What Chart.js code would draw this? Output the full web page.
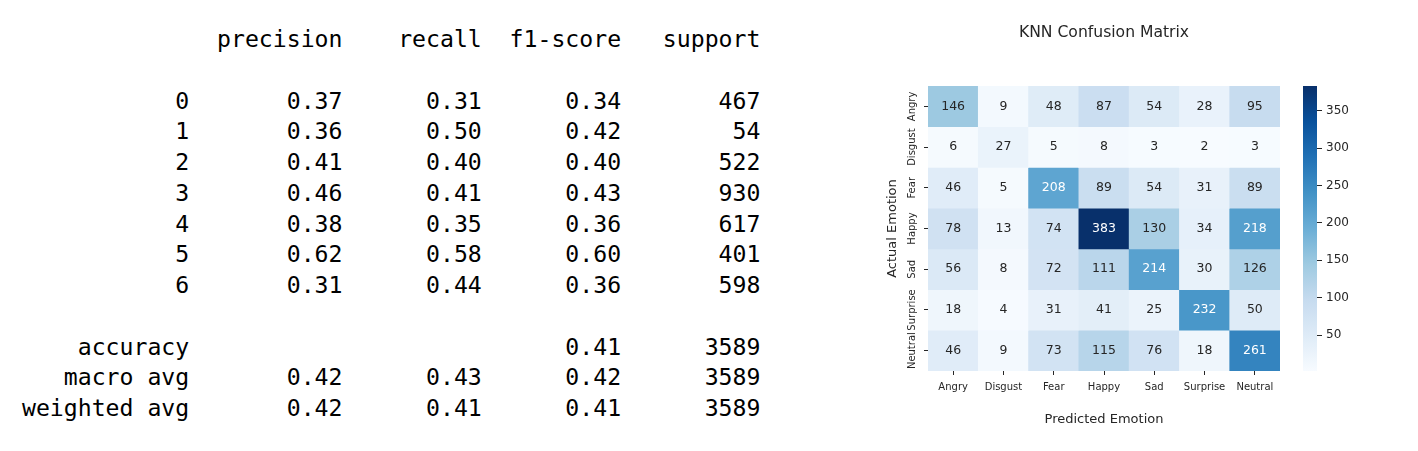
<!DOCTYPE html>
<html>
<head>
<meta charset="utf-8">
<title>KNN Confusion Matrix</title>
<script src="https://cdn.jsdelivr.net/npm/chart.js@4.4.1/dist/chart.umd.min.js"></script>
<style>
  html, body { margin: 0; padding: 0; background: #fff; }
  body { width: 1418px; height: 451px; position: relative; overflow: hidden; }
  #report {
    position: absolute; left: 22px; top: 24px; margin: 0;
    font-family: 'DejaVu Sans Mono', monospace; font-size: 23.15px;
    line-height: 30.75px; color: #000;
  }
  #heatmap { position: absolute; left: 860px; top: 0; }
  #colorbar { position: absolute; left: 1290px; top: 0; }
</style>
</head>
<body>
<pre id="report"></pre>
<canvas id="heatmap" width="430" height="451"></canvas>
<canvas id="colorbar" width="128" height="451"></canvas>
<script>
// classification report
const classLabels = ['0', '1', '2', '3', '4', '5', '6'];
const precision = [0.37, 0.36, 0.41, 0.46, 0.38, 0.62, 0.31];
const recall = [0.31, 0.50, 0.40, 0.41, 0.35, 0.58, 0.44];
const f1Score = [0.34, 0.42, 0.40, 0.43, 0.36, 0.60, 0.36];
const support = [467, 54, 522, 930, 617, 401, 598];
const accuracy = 0.41;
const totalSupport = 3589;
const macroAvg = [0.42, 0.43, 0.42];
const weightedAvg = [0.42, 0.41, 0.41];

// confusion matrix, one array per actual emotion
const emotions = ['Angry', 'Disgust', 'Fear', 'Happy', 'Sad', 'Surprise', 'Neutral'];
const actualAngry = [146, 9, 48, 87, 54, 28, 95];
const actualDisgust = [6, 27, 5, 8, 3, 2, 3];
const actualFear = [46, 5, 208, 89, 54, 31, 89];
const actualHappy = [78, 13, 74, 383, 130, 34, 218];
const actualSad = [56, 8, 72, 111, 214, 30, 126];
const actualSurprise = [18, 4, 31, 41, 25, 232, 50];
const actualNeutral = [46, 9, 73, 115, 76, 18, 261];
const matrix = [actualAngry, actualDisgust, actualFear, actualHappy, actualSad, actualSurprise, actualNeutral];

const colorbarTicks = [50, 100, 150, 200, 250, 300, 350];

const blues = ['#f7fbff', '#deebf7', '#c6dbef', '#9ecae1', '#6baed6', '#4292c6', '#2171b5', '#08519c', '#08306b'];
const vmin = Math.min(...matrix.flat());
const vmax = Math.max(...matrix.flat());
const dark = '#262626';

Chart.defaults.font.family = '"DejaVu Sans", sans-serif';

function pad(value, n) {
  return String(value).padStart(n);
}

function buildReport() {
  const w = 12;
  const num = (v) => ' ' + pad(v.toFixed(2), 9);
  const lines = [];
  lines.push(pad('', w) + ' ' + ['precision', 'recall', 'f1-score', 'support'].map((h) => ' ' + pad(h, 9)).join(''));
  lines.push('');
  classLabels.forEach((label, i) => {
    lines.push(pad(label, w) + ' ' + num(precision[i]) + num(recall[i]) + num(f1Score[i]) + ' ' + pad(support[i], 9));
  });
  lines.push('');
  lines.push(pad('accuracy', w) + ' ' + ' ' + pad('', 9) + ' ' + pad('', 9) + num(accuracy) + ' ' + pad(totalSupport, 9));
  lines.push(pad('macro avg', w) + ' ' + macroAvg.map(num).join('') + ' ' + pad(totalSupport, 9));
  lines.push(pad('weighted avg', w) + ' ' + weightedAvg.map(num).join('') + ' ' + pad(totalSupport, 9));
  return lines.join('\n');
}

document.getElementById('report').textContent = buildReport();

const bluesRgb = blues.map((h) => [1, 3, 5].map((i) => parseInt(h.slice(i, i + 2), 16)));

function bluesAt(t) {
  t = Math.min(1, Math.max(0, t));
  const pos = t * (bluesRgb.length - 1);
  const i = Math.min(Math.floor(pos), bluesRgb.length - 2);
  const f = pos - i;
  return bluesRgb[i].map((c, k) => Math.round(c + (bluesRgb[i + 1][k] - c) * f));
}

function cellColor(v) {
  const [r, g, b] = bluesAt((v - vmin) / (vmax - vmin));
  return `rgb(${r}, ${g}, ${b})`;
}

// same rule seaborn uses to pick the annotation colour
function textColor(v) {
  const lin = bluesAt((v - vmin) / (vmax - vmin)).map((c) => {
    const s = c / 255;
    return s <= 0.03928 ? s / 12.92 : Math.pow((s + 0.055) / 1.055, 2.4);
  });
  const lum = 0.2126 * lin[0] + 0.7152 * lin[1] + 0.0722 * lin[2];
  return lum > 0.408 ? dark : '#ffffff';
}

const cellLabels = {
  id: 'cellLabels',
  afterDatasetsDraw(chart) {
    const { ctx } = chart;
    ctx.save();
    ctx.font = '12.5px "DejaVu Sans"';
    ctx.textAlign = 'center';
    ctx.textBaseline = 'middle';
    chart.data.datasets.forEach((ds, r) => {
      chart.getDatasetMeta(r).data.forEach((bar, c) => {
        const v = ds.values[c];
        const { x, y, base } = bar.getProps(['x', 'y', 'base'], true);
        ctx.fillStyle = textColor(v);
        ctx.fillText(String(v), x, (y + base) / 2);
      });
    });
    ctx.restore();
  }
};

new Chart(document.getElementById('heatmap'), {
  type: 'bar',
  data: {
    labels: emotions,
    datasets: matrix.map((row, r) => ({
      label: emotions[r],
      data: row.map(() => [r, r + 1]),
      values: row,
      backgroundColor: row.map(cellColor),
      borderWidth: 0,
      grouped: false,
      barPercentage: 1,
      categoryPercentage: 1
    }))
  },
  options: {
    responsive: false,
    animation: false,
    events: [],
    layout: { padding: { left: 0, right: 10, top: 0, bottom: 0 } },
    plugins: {
      legend: { display: false },
      tooltip: { enabled: false },
      title: {
        display: true,
        fullSize: false,
        text: 'KNN Confusion Matrix',
        color: dark,
        font: { size: 15.6, weight: 'normal' },
        padding: { top: 24, bottom: 43.3 }
      }
    },
    scales: {
      x: {
        grid: { drawOnChartArea: false, drawTicks: true, tickLength: 4, offset: false, color: dark },
        border: { display: false },
        ticks: { color: dark, font: { size: 10 }, padding: 6, maxRotation: 0, autoSkip: false },
        title: { display: true, text: 'Predicted Emotion', color: dark, font: { size: 13 }, padding: { top: 0, bottom: 24 } },
        afterFit: (scale) => { scale.height = 80; }
      },
      y: {
        type: 'linear',
        min: 0,
        max: 7,
        reverse: true,
        afterBuildTicks: (scale) => { scale.ticks = emotions.map((_, i) => ({ value: i + 0.5 })); },
        grid: { drawOnChartArea: false, drawTicks: true, tickLength: 4, color: dark },
        border: { display: false },
        ticks: {
          color: dark,
          font: { size: 10 },
          minRotation: 90,
          maxRotation: 90,
          crossAlign: 'center',
          padding: -9,
          callback: (value, index) => emotions[index]
        },
        title: { display: true, text: 'Actual Emotion', color: dark, font: { size: 13 }, padding: { top: 25, bottom: 0 } },
        afterFit: (scale) => { scale.width = 68; }
      }
    }
  },
  plugins: [cellLabels]
});

function colorbarFill(context) {
  const chart = context.chart;
  if (!chart.chartArea) return blues[4];
  const y = chart.scales.y;
  const gradient = chart.ctx.createLinearGradient(0, y.getPixelForValue(vmin), 0, y.getPixelForValue(vmax));
  blues.forEach((c, i) => gradient.addColorStop(i / (blues.length - 1), c));
  return gradient;
}

new Chart(document.getElementById('colorbar'), {
  type: 'bar',
  data: {
    labels: [''],
    datasets: [{
      data: [[vmin, vmax]],
      backgroundColor: colorbarFill,
      borderWidth: 0,
      barPercentage: 1,
      categoryPercentage: 1
    }]
  },
  options: {
    responsive: false,
    animation: false,
    events: [],
    layout: { padding: { left: 13, right: 0, top: 86, bottom: 80 } },
    plugins: { legend: { display: false }, tooltip: { enabled: false } },
    scales: {
      x: { display: false },
      y: {
        position: 'right',
        min: vmin,
        max: vmax,
        afterBuildTicks: (scale) => { scale.ticks = colorbarTicks.map((v) => ({ value: v })); },
        grid: { drawOnChartArea: false, drawTicks: true, tickLength: 5, color: dark },
        border: { display: false },
        ticks: { color: dark, font: { size: 12 }, padding: 4 },
        afterFit: (scale) => { scale.width = 101; }
      }
    }
  }
});
</script>
</body>
</html>
